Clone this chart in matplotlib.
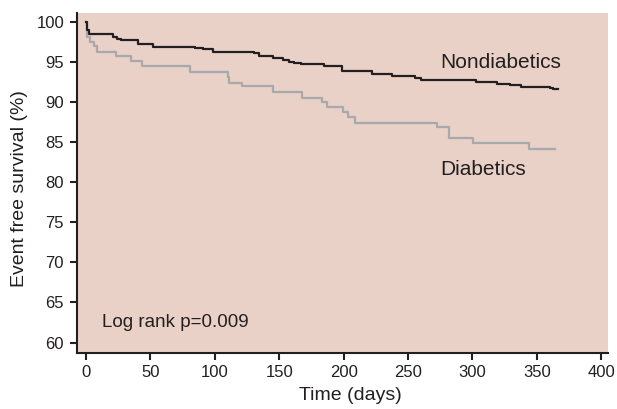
import matplotlib
matplotlib.use("Agg")
import matplotlib.pyplot as plt

# Kaplan-Meier steps (days, survival %)
nondiab_days = [0, 0.5, 2, 21, 24, 27, 40.6, 51.7, 84.8, 90.5, 98.8, 130.6, 134.5,
                145.4, 153.1, 157.6, 161.7, 166.6, 184.6, 198.4, 221.7, 237.6, 255.2,
                259.9, 302.6, 319, 329, 338, 360, 362.6, 366]
nondiab_surv = [100, 99.0, 98.45, 98.1, 97.9, 97.7, 97.2, 96.9, 96.8, 96.56, 96.26, 96.06,
                95.76, 95.5, 95.2, 95.0, 94.85, 94.73, 94.5, 93.86, 93.44, 93.2, 92.95,
                92.74, 92.45, 92.27, 92.07, 91.9, 91.78, 91.58, 91.58]

diab_days = [0, 0.5, 3.1, 6.5, 8.3, 23.3, 34.9, 43.2, 80.7, 110, 111.2, 121.3, 145.4,
             167.9, 183.4, 186.7, 199.6, 203.5, 208.9, 272.5, 281.9, 300.5, 344, 364.4]
diab_surv = [100, 98.1, 97.5, 96.97, 96.26, 95.73, 95.14, 94.52, 93.77, 93.07, 92.4,
             91.99, 91.24, 90.53, 90.03, 89.41, 88.78, 88.09, 87.41, 86.84, 85.5, 84.92,
             84.17, 84.17]

x_ticks = [0, 50, 100, 150, 200, 250, 300, 350, 400]
y_ticks = [60, 65, 70, 75, 80, 85, 90, 95, 100]

plt.rcParams["font.family"] = ["Liberation Sans", "DejaVu Sans"]
text_color = "#231f20"

fig = plt.figure(figsize=(6.17, 4.09), dpi=100)
ax = fig.add_axes([0.124, 0.138, 0.861, 0.830])
ax.set_facecolor("#e9d1c7")

ax.step(diab_days, diab_surv, where="post", color="#a7a9ac", lw=1.6)
ax.step(nondiab_days, nondiab_surv, where="post", color=text_color, lw=1.6)

ax.set_xlim(-7.4, 405)
ax.set_ylim(58.75, 101.1)
ax.set_xticks(x_ticks)
ax.set_yticks(y_ticks)

for side in ["top", "right"]:
    ax.spines[side].set_visible(False)
for side in ["left", "bottom"]:
    ax.spines[side].set_color(text_color)
    ax.spines[side].set_linewidth(1.5)

ax.tick_params(direction="out", length=5, width=1.5, color=text_color,
               labelcolor=text_color, labelsize=12, pad=4)

ax.set_xlabel("Time (days)", fontsize=14, color=text_color)
ax.set_ylabel("Event free survival (%)", fontsize=14, color=text_color)
ax.xaxis.set_label_coords(0.516, -0.1)
ax.yaxis.set_label_coords(-0.092, 0.482)

ax.text(274.6, 94.98, "Nondiabetics", fontsize=15, color=text_color, va="center", ha="left")
ax.text(274.6, 81.58, "Diabetics", fontsize=15, color=text_color, va="center", ha="left")
ax.text(12.4, 62.45, "Log rank p=0.009", fontsize=13.5, color=text_color, va="center", ha="left")

fig.savefig("out.png", dpi=100)
